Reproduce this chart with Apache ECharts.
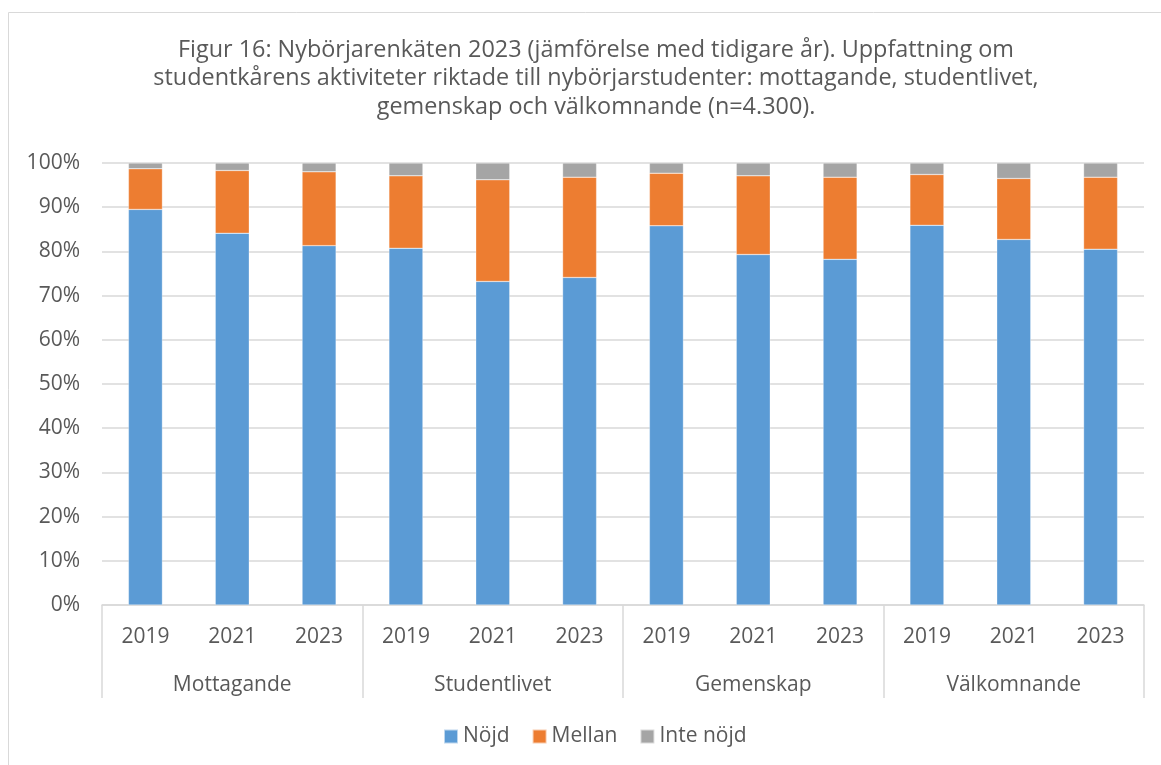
<!DOCTYPE html>
<html>
<head>
<meta charset="utf-8">
<script src="https://cdn.jsdelivr.net/npm/echarts@6/dist/echarts.min.js"></script>
<style>
  html, body { margin: 0; padding: 0; background: #fff; }
  #chart { width: 1161px; height: 765px; }
</style>
</head>
<body>
<div id="chart"></div>
<script>
// kategorier
const groups = ['Mottagande', 'Studentlivet', 'Gemenskap', 'Välkomnande'];
const years = ['2019', '2021', '2023'];
const yearLabels = ['2019', '2021', '2023', '2019', '2021', '2023', '2019', '2021', '2023', '2019', '2021', '2023'];

// andelar i procent
const nojd = [89.5, 84.1, 81.3, 80.7, 73.2, 74.1, 85.8, 79.3, 78.2, 85.9, 82.7, 80.5];
const mellan = [9.2, 14.2, 16.7, 16.4, 23.0, 22.7, 11.9, 17.8, 18.6, 11.5, 13.8, 16.3];
const inteNojd = [1.3, 1.7, 2.0, 2.9, 3.8, 3.2, 2.3, 2.9, 3.2, 2.6, 3.5, 3.2];

const yTicks = { min: 0, max: 100, interval: 10 };

const textColor = '#595959';
const lineColor = '#d9d9d9';
const font = 'Open Sans';

const chart = echarts.init(document.getElementById('chart'));

function barSeries(name, data, color) {
  return {
    name: name,
    type: 'bar',
    stack: 'total',
    barWidth: 34,
    xAxisIndex: 0,
    data: data,
    itemStyle: { color: color, borderColor: 'rgba(255,255,255,0.6)', borderWidth: 0.5 },
    emphasis: { disabled: true }
  };
}

chart.setOption({
  animation: false,
  textStyle: { fontFamily: font },
  graphic: [{
    type: 'rect',
    shape: { x: 8.5, y: 12.5, width: 1200, height: 800 },
    style: { fill: 'none', stroke: lineColor, lineWidth: 1 },
    silent: true,
    z: -1
  }],
  title: {
    text: 'Figur 16: Nybörjarenkäten 2023 (jämförelse med tidigare år). Uppfattning om\nstudentkårens aktiviteter riktade till nybörjarstudenter: mottagande, studentlivet,\ngemenskap och välkomnande (n=4.300).',
    left: 591,
    textAlign: 'center',
    top: 31,
    textStyle: {
      fontFamily: font,
      fontSize: 23.4,
      fontWeight: 'normal',
      color: textColor,
      lineHeight: 28.5,
      align: 'center'
    }
  },
  legend: {
    top: 721,
    left: 438,
    icon: 'rect',
    itemWidth: 14,
    itemHeight: 14,
    itemGap: 22,
    textStyle: { fontFamily: font, fontSize: 21, color: textColor },
    data: ['Nöjd', 'Mellan', 'Inte nöjd']
  },
  grid: { left: 102, right: 17, top: 163, bottom: 160, containLabel: false },
  xAxis: [
    {
      type: 'category',
      data: yearLabels,
      position: 'bottom',
      axisLine: { show: true, lineStyle: { color: lineColor, width: 1.5 } },
      axisTick: { show: false },
      axisLabel: { interval: 0, margin: 22, fontSize: 21, color: textColor, fontFamily: font }
    },
    {
      type: 'category',
      data: groups,
      position: 'bottom',
      axisLine: { show: false },
      axisTick: { show: true, interval: 0, length: 93, lineStyle: { color: lineColor, width: 1.5 } },
      axisLabel: { interval: 0, margin: 70, fontSize: 21, color: textColor, fontFamily: font }
    }
  ],
  yAxis: {
    type: 'value',
    min: yTicks.min,
    max: yTicks.max,
    interval: yTicks.interval,
    axisLine: { show: false },
    axisTick: { show: false },
    splitLine: { lineStyle: { color: lineColor, width: 1.5 } },
    axisLabel: { formatter: '{value}%', margin: 22, fontSize: 21, color: textColor, fontFamily: font }
  },
  series: [
    barSeries('Nöjd', nojd, '#5b9bd5'),
    barSeries('Mellan', mellan, '#ed7d31'),
    barSeries('Inte nöjd', inteNojd, '#a5a5a5')
  ]
});
</script>
</body>
</html>
